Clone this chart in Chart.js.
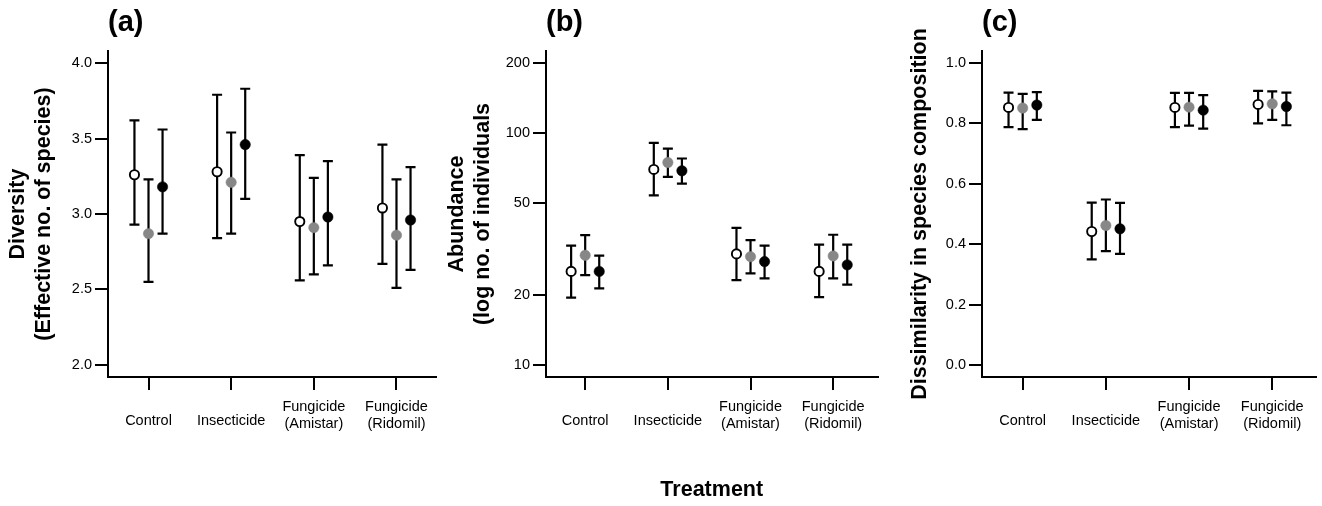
<!DOCTYPE html>
<html>
<head>
<meta charset="utf-8">
<script src="https://cdn.jsdelivr.net/npm/chart.js@4"></script>
<style>
  body { margin: 0; background: #fff; }
  #wrap { position: relative; width: 1322px; height: 506px; overflow: hidden; }
  canvas { position: absolute; top: 0; }
</style>
</head>
<body>
<div id="wrap">
  <canvas id="chart_a" width="442" height="506" style="left:0px"></canvas>
  <canvas id="chart_b" width="444" height="506" style="left:440px"></canvas>
  <canvas id="chart_c" width="432" height="506" style="left:890px"></canvas>
</div>
<script>
// treatments (x axis)
const treatments = ['Control', 'Insecticide', ['Fungicide', '(Amistar)'], ['Fungicide', '(Ridomil)']];

// (a) diversity, effective no. of species
const divOpen = [3.26, 3.28, 2.95, 3.04];
const divOpenLo = [2.93, 2.84, 2.56, 2.67];
const divOpenHi = [3.62, 3.79, 3.39, 3.46];
const divGrey = [2.87, 3.21, 2.91, 2.86];
const divGreyLo = [2.55, 2.87, 2.60, 2.51];
const divGreyHi = [3.23, 3.54, 3.24, 3.23];
const divBlack = [3.18, 3.46, 2.98, 2.96];
const divBlackLo = [2.87, 3.10, 2.66, 2.63];
const divBlackHi = [3.56, 3.83, 3.35, 3.31];
const divTicks = [2.0, 2.5, 3.0, 3.5, 4.0];

// (b) abundance, no. of individuals (log axis)
const abOpen = [25.3, 69.6, 30.1, 25.3];
const abOpenLo = [19.5, 53.8, 23.2, 19.6];
const abOpenHi = [32.7, 90.6, 39.0, 33.0];
const abGrey = [29.7, 74.6, 29.3, 29.5];
const abGreyLo = [24.4, 64.7, 24.8, 23.6];
const abGreyHi = [36.3, 85.5, 34.5, 36.4];
const abBlack = [25.3, 68.7, 27.9, 27.0];
const abBlackLo = [21.4, 60.5, 23.6, 22.2];
const abBlackHi = [29.6, 77.6, 32.7, 33.0];
const abTicks = [10, 20, 50, 100, 200];

// (c) dissimilarity in species composition
const disOpen = [0.853, 0.442, 0.853, 0.863];
const disOpenLo = [0.788, 0.350, 0.788, 0.800];
const disOpenHi = [0.902, 0.538, 0.901, 0.908];
const disGrey = [0.851, 0.462, 0.854, 0.865];
const disGreyLo = [0.781, 0.377, 0.793, 0.812];
const disGreyHi = [0.898, 0.548, 0.901, 0.906];
const disBlack = [0.861, 0.451, 0.844, 0.856];
const disBlackLo = [0.812, 0.368, 0.783, 0.794];
const disBlackHi = [0.904, 0.537, 0.894, 0.902];
const disTicks = [0.0, 0.2, 0.4, 0.6, 0.8, 1.0];

Chart.defaults.font.family = "'Liberation Sans', Arial, Helvetica, sans-serif";
Chart.defaults.color = '#000';

// vertical error bars with caps, drawn under the points
const errorBars = {
  id: 'errorBars',
  beforeDatasetsDraw(chart) {
    const { ctx, scales: { x, y } } = chart;
    ctx.save();
    ctx.strokeStyle = '#000';
    ctx.lineWidth = 2.2;
    chart.data.datasets.forEach(ds => {
      ds.data.forEach(p => {
        const px = x.getPixelForValue(p.x);
        const top = y.getPixelForValue(p.hi);
        const bot = y.getPixelForValue(p.lo);
        ctx.beginPath();
        ctx.moveTo(px, top); ctx.lineTo(px, bot);
        ctx.moveTo(px - 5, top); ctx.lineTo(px + 5, top);
        ctx.moveTo(px - 5, bot); ctx.lineTo(px + 5, bot);
        ctx.stroke();
      });
    });
    ctx.restore();
  }
};

function points(mean, lo, hi, shift) {
  return mean.map((v, i) => ({ x: i + shift, y: v, lo: lo[i], hi: hi[i] }));
}

function makeChart(id, cfg) {
  const axisLine = { display: true, color: '#000', width: 2 };
  const tickMarks = { display: true, drawOnChartArea: false, drawTicks: true, tickLength: 13, color: '#000', lineWidth: 2 };

  const yScale = Object.assign({
    border: axisLine,
    grid: tickMarks,
    afterBuildTicks: s => { s.ticks = cfg.yTicks.map(v => ({ value: v })); },
    afterFit: s => { s.width = cfg.yWidth; },
    ticks: { font: { size: 14.5 }, padding: 3, callback: cfg.yFormat },
    title: {
      display: true,
      text: cfg.yTitle,
      font: { size: 21.5, weight: 'bold', lineHeight: '26.5px' },
      padding: { top: cfg.yTitlePad, bottom: 0 }
    }
  }, cfg.yType);

  const xScale = {
    type: 'linear',
    min: cfg.xMin,
    max: cfg.xMax,
    border: axisLine,
    grid: tickMarks,
    afterBuildTicks: s => { s.ticks = [0, 1, 2, 3].map(v => ({ value: v })); },
    afterFit: s => { s.height = 129; },
    ticks: {
      autoSkip: false,
      maxRotation: 0,
      padding: 8.5,
      font: c => ({ size: 14.5, lineHeight: Array.isArray(treatments[c.tick ? c.tick.value : 0]) ? '17px' : '44px' }),
      callback: v => treatments[v]
    },
    title: cfg.xTitle ? {
      display: true,
      text: cfg.xTitle,
      font: { size: 21.5, weight: 'bold' },
      padding: { top: 0, bottom: 3 }
    } : { display: false }
  };

  return new Chart(document.getElementById(id), {
    type: 'scatter',
    data: {
      datasets: [
        { data: points(cfg.series[0][0], cfg.series[0][1], cfg.series[0][2], -0.17),
          pointRadius: 4.6, pointBorderWidth: 1.9, pointBackgroundColor: '#fff', pointBorderColor: '#000' },
        { data: points(cfg.series[1][0], cfg.series[1][1], cfg.series[1][2], 0),
          pointRadius: 5.2, pointBorderWidth: 0.5, pointBackgroundColor: '#878787', pointBorderColor: '#878787' },
        { data: points(cfg.series[2][0], cfg.series[2][1], cfg.series[2][2], 0.17),
          pointRadius: 5.2, pointBorderWidth: 0.5, pointBackgroundColor: '#000', pointBorderColor: '#000' }
      ]
    },
    options: {
      responsive: false,
      animation: false,
      events: [],
      layout: { padding: { left: 0, right: cfg.padRight, top: 0, bottom: 0 } },
      scales: { x: xScale, y: yScale },
      plugins: {
        legend: { display: false },
        tooltip: { enabled: false },
        title: {
          display: true,
          text: cfg.label,
          align: 'start',
          fullSize: false,
          color: '#000',
          font: { size: 29, weight: 'bold', lineHeight: 1.2 },
          padding: { top: 5.6, bottom: 10.6 }
        }
      }
    },
    plugins: [errorBars]
  });
}

const oneDecimal = v => Number(v).toFixed(1);

makeChart('chart_a', {
  label: '(a)',
  yTitle: ['Diversity', '(Effective no. of species)'],
  yTitlePad: 4.8,
  yWidth: 108,
  padRight: 2,
  xMin: -0.49, xMax: 3.472,
  yType: { type: 'linear', min: 1.92, max: 4.08 },
  yTicks: divTicks,
  yFormat: oneDecimal,
  series: [[divOpen, divOpenLo, divOpenHi], [divGrey, divGreyLo, divGreyHi], [divBlack, divBlackLo, divBlackHi]]
});

makeChart('chart_b', {
  label: '(b)',
  yTitle: ['Abundance', '(log no. of individuals'],
  yTitlePad: 3.4,
  yWidth: 106,
  padRight: 2,
  xMin: -0.474, xMax: 3.536,
  yType: { type: 'logarithmic', min: 8.872, max: 225.5 },
  yTicks: abTicks,
  yFormat: v => String(v),
  xTitle: 'Treatment',
  series: [[abOpen, abOpenLo, abOpenHi], [abGrey, abGreyLo, abGreyHi], [abBlack, abBlackLo, abBlackHi]]
});

makeChart('chart_c', {
  label: '(c)',
  yTitle: 'Dissimilarity in species composition',
  yTitlePad: 16.7,
  yWidth: 92,
  padRight: 4,
  xMin: -0.489, xMax: 3.52,
  yType: { type: 'linear', min: -0.04, max: 1.04 },
  yTicks: disTicks,
  yFormat: oneDecimal,
  series: [[disOpen, disOpenLo, disOpenHi], [disGrey, disGreyLo, disGreyHi], [disBlack, disBlackLo, disBlackHi]]
});
</script>
</body>
</html>
